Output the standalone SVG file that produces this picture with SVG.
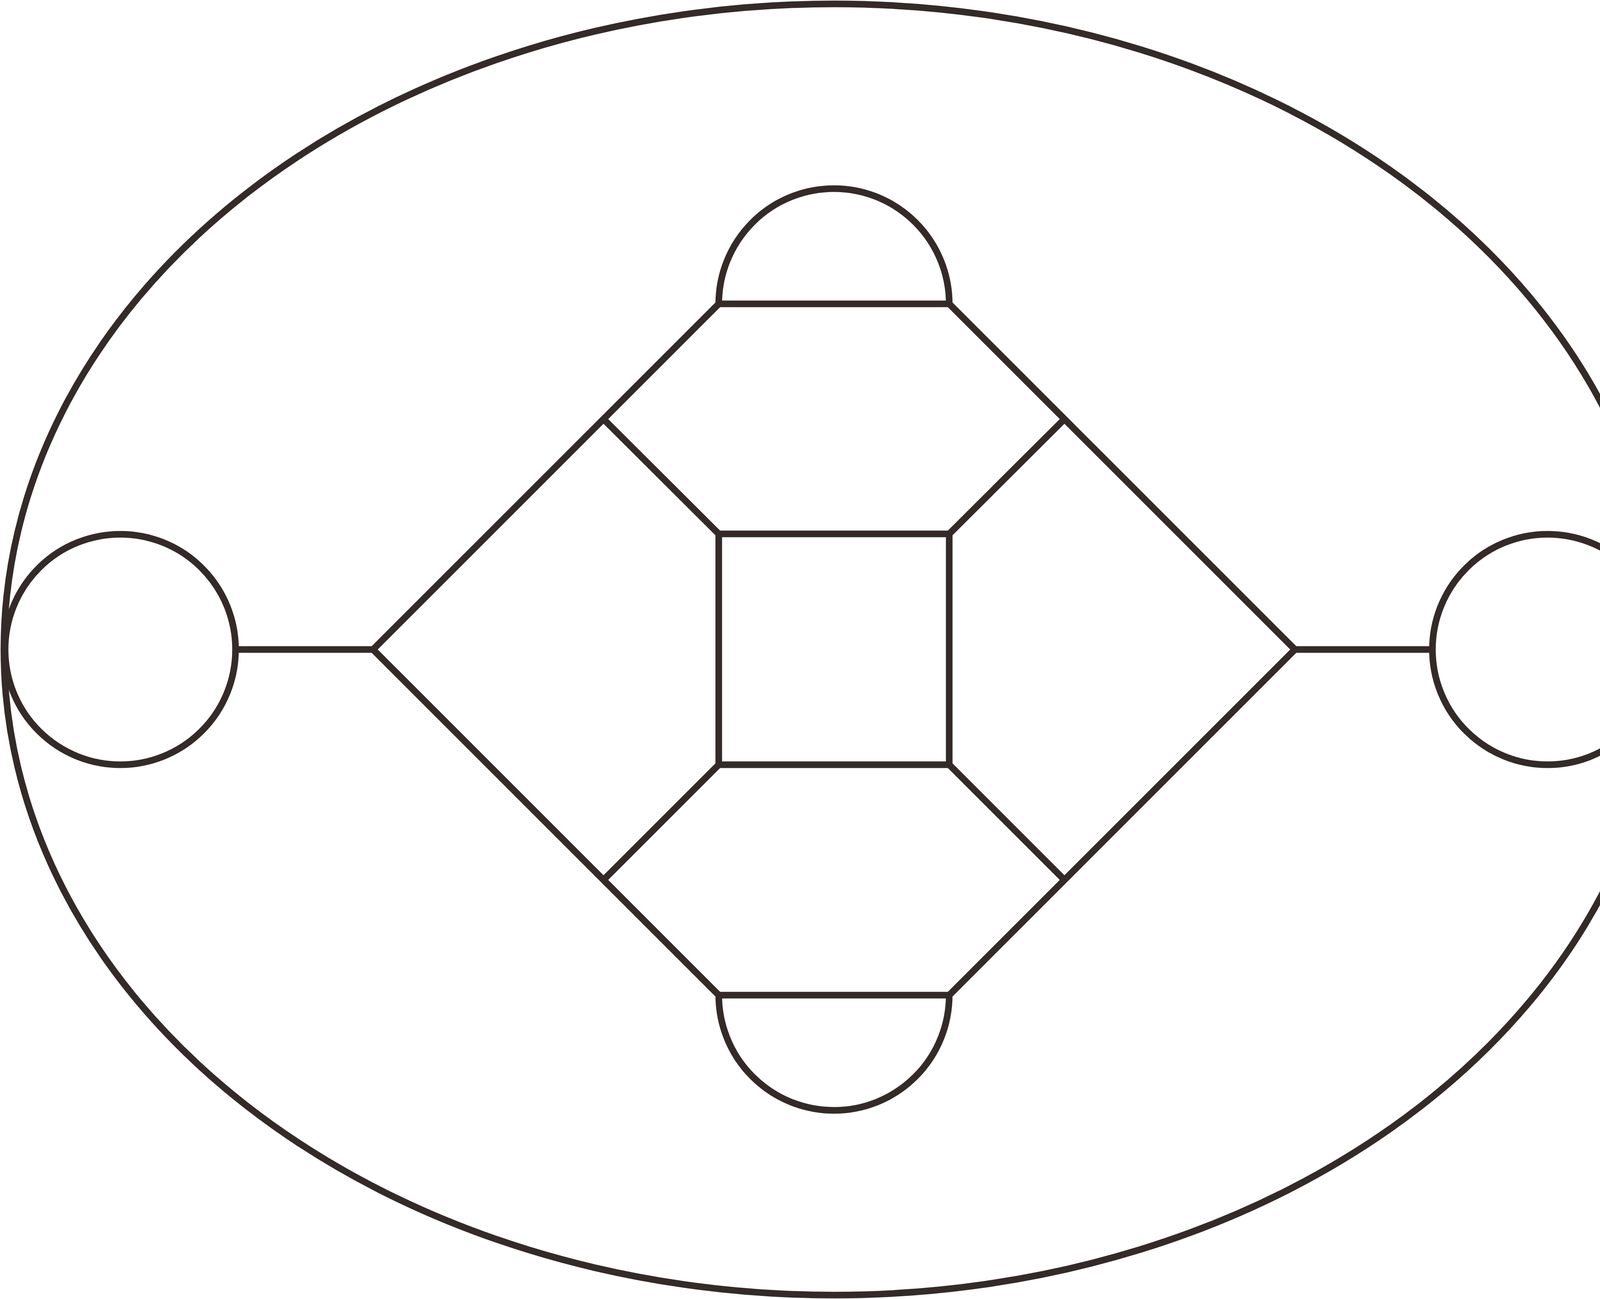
<svg xmlns="http://www.w3.org/2000/svg" width="4270" height="3326" viewBox="0 0 4270 3326">
<style>
.s{fill:none;stroke:#342b29;stroke-width:17;stroke-linejoin:miter;stroke-linecap:butt}
</style>
<rect width="4270" height="3326" fill="#ffffff"/>
<g id="outer"><ellipse class="s" cx="2135" cy="1663" rx="2125" ry="1653"/></g>
<g id="connectors">
<path class="s" d="M955 1663 L1840 778 H2430 L3315 1663 L2430 2548 H1840 Z"/>
<path class="s" d="M603 1663 H955"/>
<path class="s" d="M3315 1663 H3667"/>
<path class="s" d="M1545 1073 L1840 1367"/>
<path class="s" d="M2725 1073 L2430 1367"/>
<path class="s" d="M1545 2253 L1840 1958"/>
<path class="s" d="M2725 2253 L2430 1958"/>
</g>
<g id="left-circle"><circle class="s" cx="308" cy="1663" r="295"/></g>
<g id="right-circle"><circle class="s" cx="3962" cy="1663" r="295"/></g>
<g id="top-semicircle"><path class="s" d="M1840 778 A295 295 0 0 1 2430 778"/></g>
<g id="bottom-semicircle"><path class="s" d="M1840 2548 A295 295 0 0 0 2430 2548"/></g>
<g id="center-square"><rect class="s" x="1840" y="1367" width="590" height="591"/></g>
</svg>
